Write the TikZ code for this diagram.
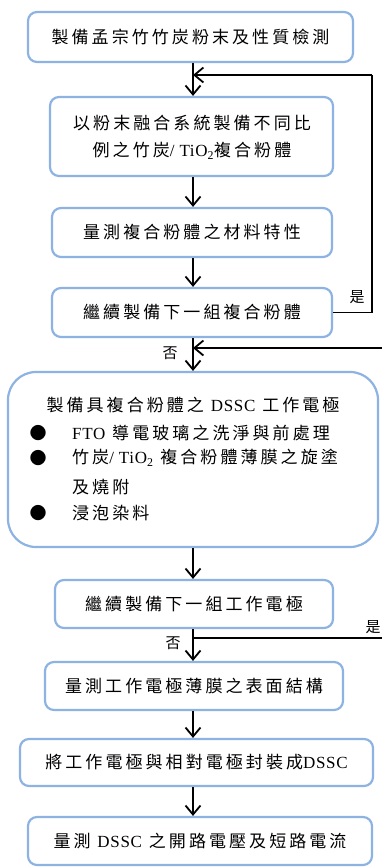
\documentclass[tikz,border=0pt]{standalone}
\usepackage{fontspec}
\setmainfont{Noto Sans CJK TC}[LetterSpace=18]
\newfontfamily\lat{Liberation Serif}[LetterSpace=4]
\usetikzlibrary{arrows.meta}
\definecolor{boxblue}{RGB}{141,179,226}
\tikzset{
  txt/.style={font=\fontsize{17}{20}\selectfont, inner sep=0pt},
  pbox/.style={draw=boxblue, line width=2.2pt, rounded corners=9pt, fill=white, txt, align=center},
  arr/.style={-{Straight Barb[length=9pt,width=15pt,line width=1.8pt]}, line width=1.8pt, black},
  ln/.style={line width=1.8pt, black},
  lbl/.style={font=\fontsize{15}{17}\selectfont, inner sep=0pt}
}
\begin{document}
\begin{tikzpicture}[x=1pt,y=-1pt]
\useasboundingbox (0,0) rectangle (382,867);
% boxes
\node[pbox, minimum width=325pt, minimum height=50pt] (b1) at (190.5,37) {製備孟宗竹竹炭粉末及性質檢測};
\node[pbox, minimum width=283pt, minimum height=79pt] (b2) at (191.5,136.5) {};
\node[txt] (b2a) at (192,123) {以粉末融合系統製備不同比};
\node[txt] (b2b) at (192,151) {例之竹炭{\lat / TiO\textsubscript{2}}複合粉體};
\node[pbox, minimum width=280pt, minimum height=49pt] (b3) at (192,232.5) {量測複合粉體之材料特性};
\node[pbox, minimum width=280pt, minimum height=49pt] (b4) at (192,312.5) {繼續製備下一組複合粉體};
\node[pbox, rounded corners=28pt, minimum width=370pt, minimum height=175pt] (b5) at (193,459.5) {};
\node[txt] (t0) at (193,405) {製備具複合粉體之 {\lat DSSC} 工作電極};
\node[txt] (d1) at (38,433) {●};
\node[txt] (d2) at (38,458) {●};
\node[txt] (d3) at (38,513) {●};
\node[txt, anchor=west] (t1) at (72,433) {{\lat FTO} 導電玻璃之洗淨與前處理};
\node[txt, anchor=west] (t2) at (72,458) {竹炭{\lat / TiO\textsubscript{2}} 複合粉體薄膜之旋塗};
\node[txt, anchor=west] (t3) at (72,487) {及燒附};
\node[txt, anchor=west] (t4) at (72,513) {浸泡染料};
\node[pbox, minimum width=278pt, minimum height=48pt] (b6) at (194,604) {繼續製備下一組工作電極};
\node[pbox, minimum width=298pt, minimum height=48pt] (b7) at (194,686) {量測工作電極薄膜之表面結構};
\node[pbox, minimum width=353pt, minimum height=47pt] (b8) at (196.5,762.5) {將工作電極與相對電極封裝成{\lat DSSC}};
\node[pbox, minimum width=344pt, minimum height=48pt] (b9) at (200,841) {量測 {\lat DSSC} 之開路電壓及短路電流};
% spine coordinates
\coordinate (s) at (193,0);
\coordinate (r1) at (372,75);
\coordinate (j1) at (193,75);
\coordinate (e2) at (382,348);
\coordinate (j2) at (193,348);
\coordinate (j3) at (193,638);
\coordinate (e3) at (382,638);
% main arrows
\draw[arr] (b1.south -| s) -- (b2.north -| s);
\draw[arr] (b2.south -| s) -- (b3.north -| s);
\draw[arr] (b3.south -| s) -- (b4.north -| s);
\draw[arr] (b4.south -| s) -- (b5.north -| s);
\draw[arr] (b5.south -| s) -- (b6.north -| s);
\draw[arr] (b6.south -| s) -- (b7.north -| s);
\draw[arr] (b7.south -| s) -- (b8.north -| s);
\draw[arr] (b8.south -| s) -- (b9.north -| s);
% feedback loops
\draw[ln] (b4.east) -| (r1);
\draw[arr] (r1) -- (j1);
\draw[arr] (e2) -- (j2);
\draw[ln] (j3) -- (e3);
% labels
\node[lbl] (y1) at (357,297) {是};
\node[lbl] (n1) at (170,353) {否};
\node[lbl] (y2) at (373,627) {是};
\node[lbl] (n2) at (173,643) {否};
\end{tikzpicture}
\end{document}
